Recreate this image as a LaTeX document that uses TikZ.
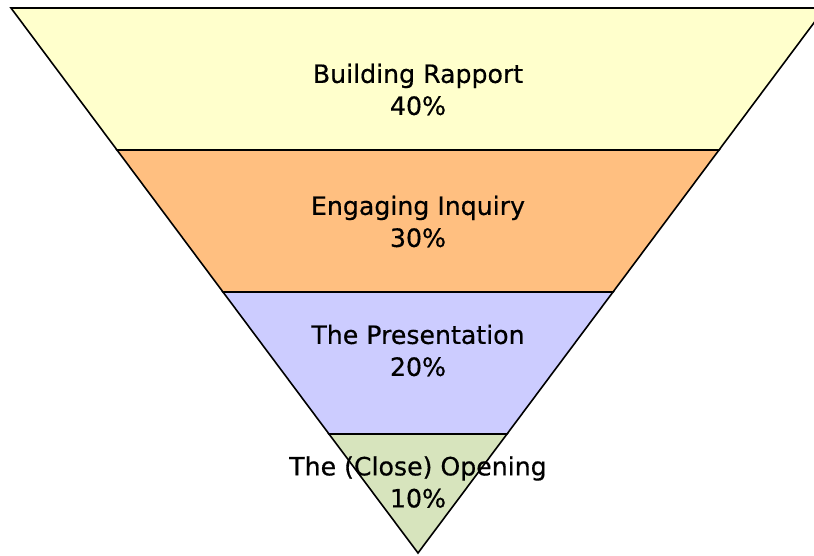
\documentclass[tikz,border=0pt]{standalone}
\usepackage{fontspec}
\setmainfont{DejaVu Sans}
\newfontfamily\funnelfont[FakeBold=0.5]{DejaVu Sans}
\usepackage{tikz}
\usetikzlibrary{positioning, calc}
\definecolor{rapportyellow}{RGB}{255, 255, 204}
\definecolor{inquiryorange}{RGB}{255, 191, 128}
\definecolor{presentblue}{RGB}{204, 204, 255}
\definecolor{closegreen}{RGB}{215, 228, 189}

\tikzset{
  band/.style={draw=black, line width=1.6pt, line join=miter},
  bandlabel/.style={align=center, inner sep=0pt, font=\funnelfont\fontsize{25.2}{32}\selectfont}
}

\begin{document}
\begin{tikzpicture}[x=1pt, y=-1pt]
        \useasboundingbox (0,0) rectangle (814,555);
        % funnel corners and band edges
        \coordinate (topL) at (11,8);
        \coordinate (topR) at (825,8);
        \coordinate (aL) at (117,150);
        \coordinate (aR) at (719,150);
        \coordinate (bL) at (223,292);
        \coordinate (bR) at (613,292);
        \coordinate (cL) at (329,434);
        \coordinate (cR) at (507,434);
        \coordinate (apex) at (418,553);

        \draw[band, fill=rapportyellow] (topL) -- (topR) -- (aR) -- (aL) -- cycle;
        \draw[band, fill=inquiryorange] (aL) -- (aR) -- (bR) -- (bL) -- cycle;
        \draw[band, fill=presentblue] (bL) -- (bR) -- (cR) -- (cL) -- cycle;
        \draw[band, fill=closegreen] (cL) -- (cR) -- (apex) -- cycle;

        \node[bandlabel] (rapport) at (418,89.5) {Building Rapport\\40\%};
        \node[bandlabel] (inquiry) at (418,221.5) {Engaging Inquiry\\30\%};
        \node[bandlabel] (present) at (418,350.5) {The Presentation\\20\%};
        \node[bandlabel] (opening) at (418,482) {The (Close) Opening\\10\%};
    \end{tikzpicture}
\end{document}
